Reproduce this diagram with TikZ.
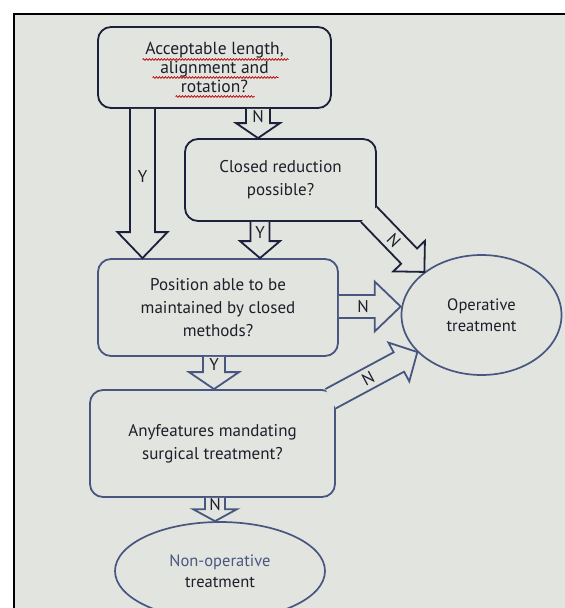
\documentclass[tikz,border=0pt]{standalone}
\usepackage{fontspec}
\setmainfont{PT Sans}
\usetikzlibrary{positioning, calc, shapes.geometric, decorations.pathmorphing}

\definecolor{paper}{RGB}{226,228,223}
\definecolor{inkdark}{RGB}{28,32,58}
\definecolor{inkblue}{RGB}{72,86,128}
\definecolor{txt}{RGB}{30,30,42}

% [style] from, to, half shaft, half head, head length, label options, label
\newcommand{\blockarrow}[8][]{%
    \coordinate (ba) at ($(#3)!#6!(#2)$);
    \filldraw[blk, #1]
        ($(#2)!#4!90:(#3)$) -- ($(ba)!#4!90:(#3)$) -- ($(ba)!#5!90:(#3)$) --
        (#3) --
        ($(ba)!#5!-90:(#3)$) -- ($(ba)!#4!-90:(#3)$) -- ($(#2)!#4!-90:(#3)$);
    \path (#2) -- (ba) node[lbl, #7] {#8};
}

\begin{document}
\begin{tikzpicture}[x=1pt, y=-1pt]

\tikzset{
    box/.style={draw=inkblue, line width=1.8pt, rounded corners=13pt, fill=paper,
        align=center, inner sep=2pt, text=txt, font=\fontsize{17}{23}\selectfont},
    oval/.style={ellipse, draw=inkblue, line width=1.7pt, fill=paper, inner sep=0pt,
        align=center, text=txt, font=\fontsize{16.5}{21}\selectfont},
    blk/.style={draw=inkdark, line width=1.8pt, fill=paper, line join=miter},
    lbl/.style={text=txt, font=\fontsize{17}{17}\selectfont, inner sep=0pt},
    squiggle/.style={draw=red!75!black, line width=0.7pt,
        decorate, decoration={snake, amplitude=0.9pt, segment length=3pt}}
}

%====================================================
% PAPER
%====================================================
\useasboundingbox (0,0) rectangle (565,608);
\clip (0,0) rectangle (565,608);
\fill[paper] (0,0) rectangle (565,608);
\fill[white] (0,0) rectangle (565,13);
\fill[white] (0,0) rectangle (13,608);
\draw[black, line width=2pt] (14,608) -- (14,14) -- (565,14);

%====================================================
% BOXES
%====================================================
\node[box, draw=inkdark, minimum width=233pt, minimum height=81pt,
    font=\fontsize{17.5}{19}\selectfont] (acc) at (214.5,67.5)
    {Acceptable length,\\ alignment and\\ rotation?};
\node[box, draw=inkdark, minimum width=191pt, minimum height=82pt] (closed) at (280.5,180)
    {Closed reduction\\ possible?};
\node[box, minimum width=240pt, minimum height=97pt] (maint) at (218,307.5)
    {Position able to be\\ maintained by closed\\ methods?};
\node[box, minimum width=245pt, minimum height=107pt] (feat) at (212.5,443.5)
    {\raisebox{-5pt}{\parbox{200pt}{\centering Anyfeatures mandating\\ surgical treatment?}}};

\node[oval, minimum width=210pt, minimum height=98pt] (nonop) at (220,571)
    {\textcolor{inkblue}{Non-operative}\\ treatment};
\node[oval, minimum width=160pt, minimum height=120pt] (oper) at (481.5,315)
    {Operative\\ treatment};

% spell-check squiggles
\draw[squiggle] ($(acc.center)+(-72,-8)$) -- ($(acc.center)+(74,-8)$);
\draw[squiggle] ($(acc.center)+(-62,10)$) -- ($(acc.center)+(64,10)$);
\draw[squiggle] ($(acc.center)+(-39,29)$) -- ($(acc.center)+(40,29)$);

%====================================================
% ARROWS
%====================================================
\coordinate (y1a) at ([xshift=-72pt]acc.south);
\coordinate (y1b) at (y1a |- maint.north);
\coordinate (n1a) at ([xshift=43.5pt]acc.south);
\coordinate (n1b) at (n1a |- closed.north);
\coordinate (y2a) at ([xshift=-20.5pt]closed.south);
\coordinate (y2b) at (y2a |- maint.north);
\coordinate (nha) at ([yshift=1pt]maint.east);
\coordinate (nhb) at (nha -| oper.west);
\coordinate (nda) at ($(closed.south east)+(-8,-7.5)$);
\coordinate (nfa) at ($(feat.north east)+(-5.3,9.6)$);
\coordinate (y3a) at ([xshift=-4pt]maint.south);
\coordinate (y3b) at (y3a |- feat.north);
\coordinate (n5a) at ([xshift=2.5pt]feat.south);
\coordinate (n5b) at (n5a |- nonop.north);

\blockarrow{y1a}{y1b}{12.5pt}{25pt}{26pt}{pos=0.55, name=ly1}{Y}
\blockarrow{n1a}{n1b}{12pt}{22pt}{15pt}{pos=0.55, name=ln1}{N}
\blockarrow{y2a}{y2b}{9.5pt}{20pt}{17pt}{pos=0.55, name=ly2}{Y}
\blockarrow[draw=inkblue]{nha}{nhb}{11.5pt}{25pt}{26pt}{pos=0.68, name=lnh}{N}
\blockarrow{nda}{oper.143}{11pt}{22pt}{22pt}{pos=0.62, sloped, name=lnd}{N}
\blockarrow[draw=inkblue]{nfa}{oper.210}{11pt}{22pt}{21pt}{pos=0.55, sloped, name=lnf}{N}
\blockarrow[draw=inkblue]{y3a}{y3b}{11pt}{25pt}{17pt}{pos=0.5, name=ly3}{Y}
\blockarrow[draw=inkblue]{n5a}{n5b}{10pt}{22pt}{12pt}{pos=0.6, name=ln5}{N}

\end{tikzpicture}
\end{document}
